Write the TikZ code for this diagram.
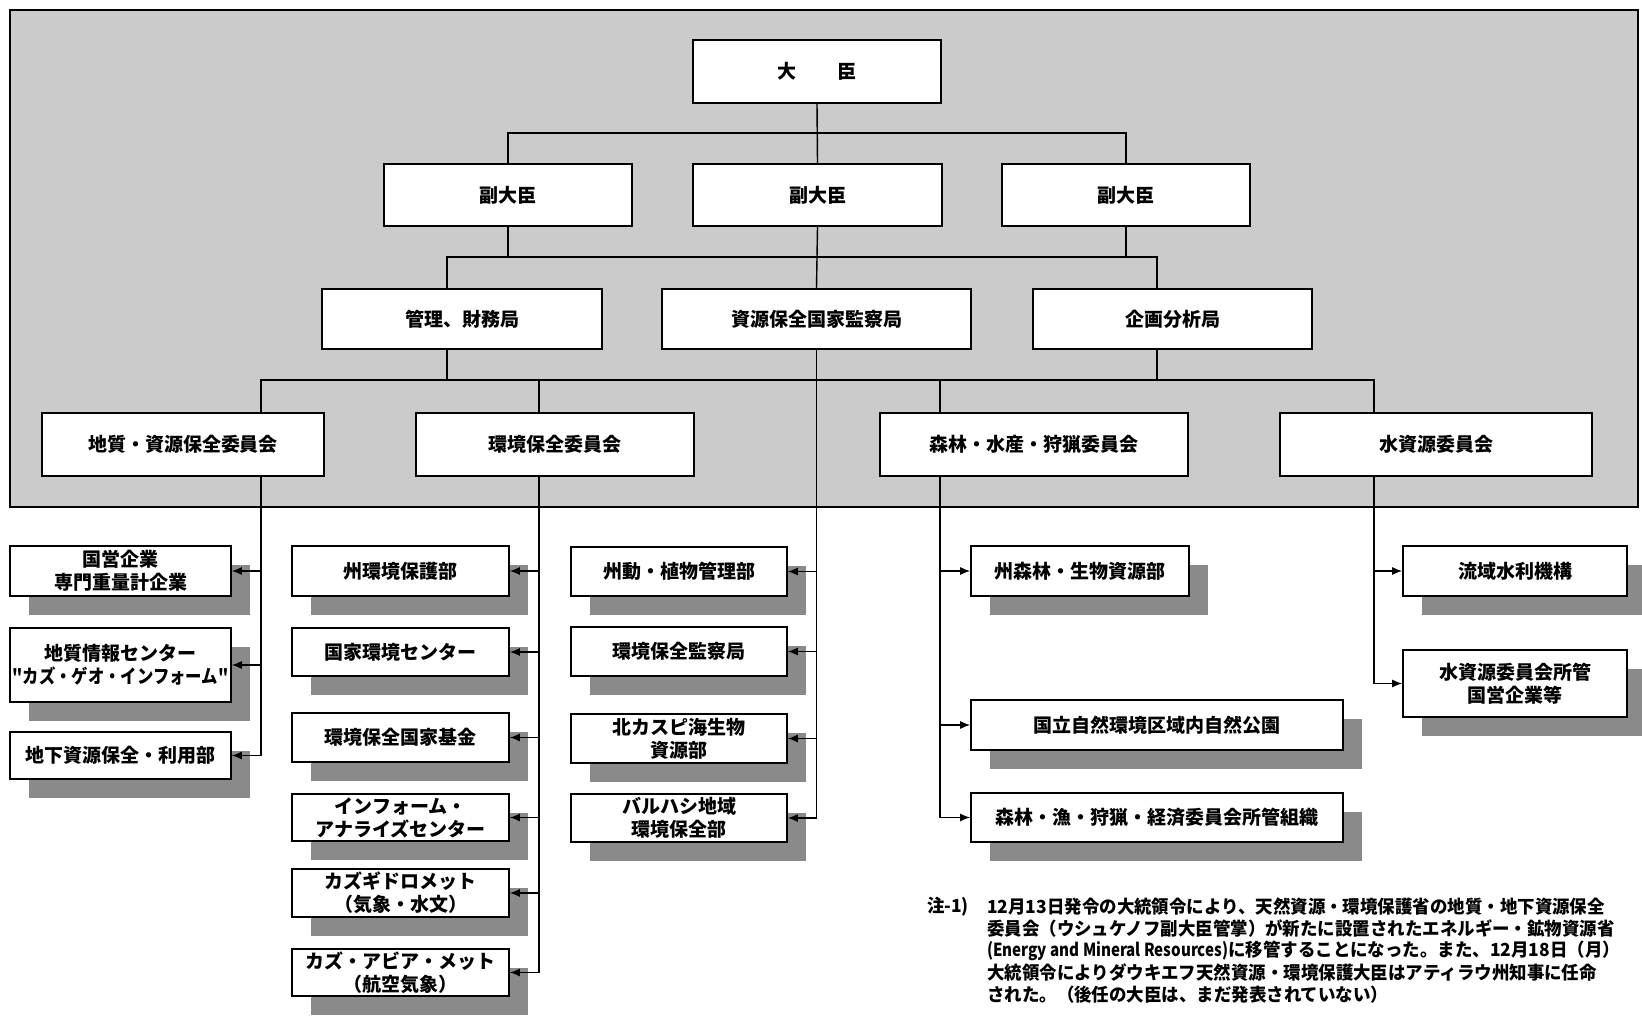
\documentclass[tikz,border=0pt]{standalone}
\usepackage{fontspec}
\setmainfont{Noto Sans CJK JP}
\newfontfamily\condfont{Noto Sans CJK JP}[FakeStretch=0.86]
\newfontfamily\notefont{Noto Sans CJK JP}[FakeStretch=0.97]
\newfontfamily\latcond{Noto Sans CJK JP}[FakeStretch=0.84]
\usetikzlibrary{arrows.meta,shadows}
\definecolor{bgc}{HTML}{CBCBCB}
\definecolor{shc}{HTML}{8A8A8A}
\tikzset{
  box/.style={draw=black, line width=1.6pt, fill=white, inner sep=2pt, align=center,
    font=\fontsize{19}{23}\selectfont\bfseries},
  wh/.style 2 args={minimum width=#1pt, minimum height=#2pt},
  shbox/.style={box, drop shadow={shadow xshift=19pt, shadow yshift=-19pt, fill=shc, opacity=1}},
  conn/.style={line width=1.4pt},
  arr/.style={conn, -{Latex[length=10pt,width=8pt]}},
  note/.style={anchor=west, inner sep=0pt, font=\notefont\fontsize{18}{21}\selectfont\bfseries},
}
\begin{document}
\begin{tikzpicture}[x=1pt,y=-1pt]
\useasboundingbox (0,0) rectangle (1642,1016);
\fill[white] (0,0) rectangle (1642,1016);
\draw[line width=1.6pt, fill=bgc] (10,10) rectangle (1638,507);

% bus coordinates
\coordinate (y1) at (0,133);
\coordinate (y2) at (0,257);
\coordinate (y3) at (0,380);
\coordinate (xbA) at (447,0);
\coordinate (xbC) at (1157,0);
\coordinate (xcA) at (261,0);
\coordinate (xcB) at (539,0);
\coordinate (xcC) at (940,0);
\coordinate (xcD) at (1374,0);

% top levels
\node[box, wh={248}{63}] (min) at (817,71.5) {大\hspace{2.2em}臣};
\node[box, wh={248}{62}] (dA) at (508,195) {副大臣};
\node[box, wh={249}{62}] (dB) at (817.5,195) {副大臣};
\node[box, wh={248}{62}] (dC) at (1126,195) {副大臣};
\node[box, wh={280}{60}] (bA) at (462,319) {管理、財務局};
\node[box, wh={309}{60}] (bB) at (816.5,319) {資源保全国家監察局};
\node[box, wh={279}{60}] (bC) at (1172.5,319) {企画分析局};
\node[box, wh={282}{63}] (cA) at (183,444.5) {地質・資源保全委員会};
\node[box, wh={278}{63}] (cB) at (555,444.5) {環境保全委員会};
\node[box, wh={308}{63}] (cC) at (1034,444.5) {森林・水産・狩猟委員会};
\node[box, wh={312}{63}] (cD) at (1436,444.5) {水資源委員会};

% column A
\node[shbox, wh={221}{50}] (a1) at (120.5,571) {国営企業\\専門重量計企業};
\node[shbox, wh={221}{74}] (a2) at (120.5,665) {地質情報センター\\{\condfont\bfseries "カズ・ゲオ・インフォーム"}};
\node[shbox, wh={221}{47}] (a3) at (120.5,755.5) {地下資源保全・利用部};
% column B
\node[shbox, wh={217}{50}] (b1) at (400.5,571) {州環境保護部};
\node[shbox, wh={217}{48}] (b2) at (400.5,652) {国家環境センター};
\node[shbox, wh={217}{49}] (b3) at (400.5,737.5) {環境保全国家基金};
\node[shbox, wh={217}{47}] (b4) at (400.5,817.5) {インフォーム・\\アナライズセンター};
\node[shbox, wh={217}{48}] (b5) at (400.5,893) {カズギドロメット\\（気象・水文）};
\node[shbox, wh={217}{47}] (b6) at (400.5,972.5) {カズ・アビア・メット\\（航空気象）};
% column C
\node[shbox, wh={216}{49}] (c1) at (679,571.5) {州動・植物管理部};
\node[shbox, wh={216}{49}] (c2) at (679,651.5) {環境保全監察局};
\node[shbox, wh={216}{49}] (c3) at (679,738.5) {北カスピ海生物\\資源部};
\node[shbox, wh={216}{48}] (c4) at (679,818) {バルハシ地域\\環境保全部};
% column D
\node[shbox, wh={218}{50}] (d1) at (1080,571) {州森林・生物資源部};
\node[shbox, wh={372}{50}] (d2) at (1157,725) {国立自然環境区域内自然公園};
\node[shbox, wh={372}{49}] (d3) at (1157,817.5) {森林・漁・狩猟・経済委員会所管組織};
% column E
\node[shbox, wh={224}{50}] (e1) at (1515,571) {流域水利機構};
\node[shbox, wh={224}{67}] (e2) at (1515,683.5) {水資源委員会所管\\国営企業等};

% connectors: minister -> deputies
\draw[conn] (min.south) -- (dB.north);
\draw[conn] (dA.north) -- (dA.north |- y1) -- (dC.north |- y1) -- (dC.north);
% deputies -> bureaus
\draw[conn] (dA.south) -- (dA.south |- y2);
\draw[conn] (dC.south) -- (dC.south |- y2);
\draw[conn] (dB.south) -- (bB.north);
\draw[conn] (xbA |- bA.north) -- (xbA |- y2) -- (xbC |- y2) -- (xbC |- bC.north);
% bureaus -> committees
\draw[conn] (xbA |- bA.south) -- (xbA |- y3);
\draw[conn] (xbC |- bC.south) -- (xbC |- y3);
\draw[conn] (xcA |- cA.north) -- (xcA |- y3) -- (xcD |- y3) -- (xcD |- cD.north);
\draw[conn] (xcB |- y3) -- (xcB |- cB.north);
\draw[conn] (xcC |- y3) -- (xcC |- cC.north);

% column A links
\draw[conn] (xcA |- cA.south) -- (xcA |- a3.east);
\foreach \n in {a1,a2,a3} \draw[arr] (xcA |- \n.east) -- (\n.east);
% column B links
\draw[conn] (xcB |- cB.south) -- (xcB |- b6.east);
\foreach \n in {b1,b2,b3,b4,b5,b6} \draw[arr] (xcB |- \n.east) -- (\n.east);
% column C links
\draw[conn] (bB.south) -- (bB.south |- c4.east);
\foreach \n in {c1,c2,c3,c4} \draw[arr] (bB.south |- \n.east) -- (\n.east);
% column D links
\draw[conn] (xcC |- cC.south) -- (xcC |- d3.west);
\foreach \n in {d1,d2,d3} \draw[arr] (xcC |- \n.west) -- (\n.west);
% column E links
\draw[conn] (xcD |- cD.south) -- (xcD |- e2.west);
\foreach \n in {e1,e2} \draw[arr] (xcD |- \n.west) -- (\n.west);

% note
\node[note] (n0) at (927,907) {注-1)};
\node[note] (n1) at (987,907) {12月13日発令の大統領令により、天然資源・環境保護省の地質・地下資源保全};
\node[note] (n2) at (987,929) {委員会（ウシュケノフ副大臣管掌）が新たに設置されたエネルギー・鉱物資源省};
\node[note] (n3) at (987,951) {{\latcond\bfseries (Energy and Mineral Resources)}に移管することになった。また、12月18日（月）};
\node[note] (n4) at (987,973) {大統領令によりダウキエフ天然資源・環境保護大臣はアティラウ州知事に任命};
\node[note] (n5) at (987,995) {された。（後任の大臣は、まだ発表されていない）};
\end{tikzpicture}
\end{document}
